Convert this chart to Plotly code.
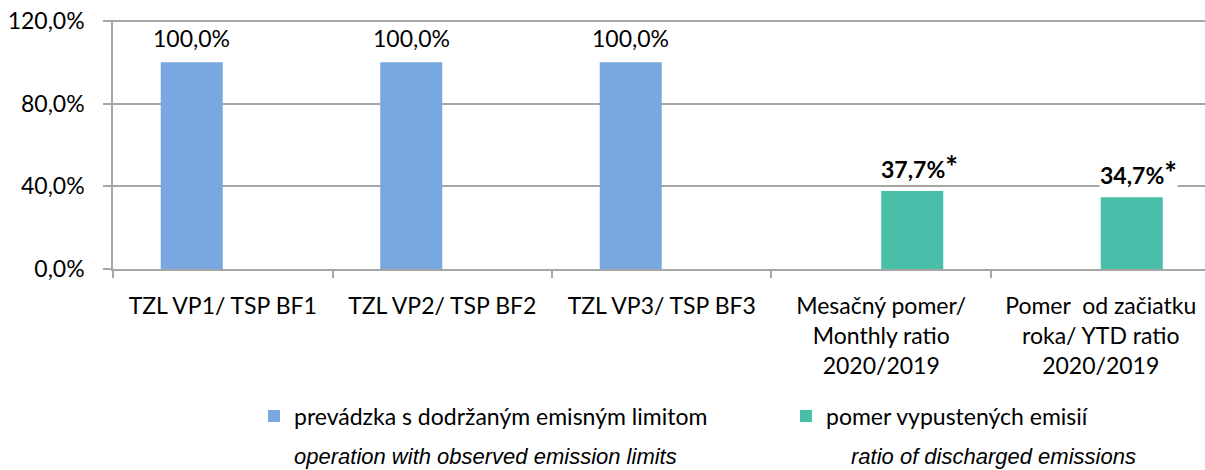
import plotly.graph_objects as go

categories = [
    "TZL VP1/ TSP BF1",
    "TZL VP2/ TSP BF2",
    "TZL VP3/ TSP BF3",
    "Mesačný pomer/<br>Monthly ratio<br>2020/2019",
    "Pomer  od začiatku<br>roka/ YTD ratio<br>2020/2019",
]
series_names = ["prevádzka s dodržaným emisným limitom", "pomer vypustených emisií"]
series_sub = ["operation with observed emission limits", "ratio of discharged emissions"]
limit_values = [100.0, 100.0, 100.0, None, None]
ratio_values = [None, None, None, 37.7, 34.7]
y_ticks = [0, 40, 80, 120]

BLUE = "#79A7DF"
GREEN = "#49BFA9"
GRID = "#A6A6A6"
FONT = "Lato"

# the page's default body margin is removed below (post_script), so figure px == screen px
W, H = 1205, 470
L, R, T, B = 113, 1205, 20, 269

def px_x(xs):
    return (xs - L) / (R - L)

def px_y(ys):
    return (B - ys) / (B - T)

def fmt(v):
    return f"{v:.1f}".replace(".", ",") + "%"

fig = go.Figure()
fig.add_trace(go.Bar(x=categories, y=limit_values, name=series_names[0],
                     marker=dict(color=BLUE, line=dict(width=0))))
fig.add_trace(go.Bar(x=categories, y=ratio_values, name=series_names[1],
                     marker=dict(color=GREEN, line=dict(width=0))))

annotations = []
for i, v in enumerate(limit_values):
    if v is not None:
        annotations.append(dict(x=categories[i], y=v, xref="x", yref="y",
                                text=fmt(v), showarrow=False, xanchor="center",
                                yanchor="bottom", xshift=-31, yshift=8,
                                font=dict(family=FONT, size=23, color="#000000"),
                                bgcolor="white"))
for i, v in enumerate(ratio_values):
    if v is not None:
        annotations.append(dict(x=categories[i], y=v, xref="x", yref="y",
                                text="<b>" + fmt(v) + "<span style='font-size:30px'>*</span></b>",
                                showarrow=False, xanchor="center",
                                yanchor="bottom", xshift=31 + 7, yshift=6,
                                font=dict(family=FONT, size=23, color="#000000"),
                                bgcolor="white", borderpad=0))

for xs, txt in zip([293, 850], series_sub):
    annotations.append(dict(x=px_x(xs), y=px_y(456), xref="paper", yref="paper",
                            text="<i>" + txt + "</i>", showarrow=False,
                            xanchor="left", yanchor="middle", borderpad=0,
                            font=dict(family="Liberation Sans", size=22, color="#000000")))

fig.update_layout(
    width=W, height=H,
    margin=dict(l=L, r=W - R, t=T, b=H - B, autoexpand=False),
    paper_bgcolor="white", plot_bgcolor="white",
    barmode="group", bargap=0.435, bargroupgap=0,
    separators=",.",
    font=dict(family=FONT, size=23, color="#000000"),
    showlegend=True,
    legend=dict(orientation="h", xref="container", yref="container",
                x=254 / W, y=1 - 416 / H, xanchor="left", yanchor="middle",
                entrywidth=487, entrywidthmode="pixels",
                font=dict(family=FONT, size=23, color="#000000"),
                bgcolor="rgba(0,0,0,0)", traceorder="normal"),
    annotations=annotations,
)
fig.update_xaxes(type="category", range=[-0.5, 4.475], showline=True,
                 linecolor=GRID, linewidth=1.5, ticks="outside", tickson="boundaries",
                 ticklen=7, tickcolor=GRID, tickwidth=1.5, showgrid=False,
                 ticklabelstandoff=16, tickfont=dict(family=FONT, size=23, color="#000000"))
fig.update_yaxes(range=[0, 120.5], tickvals=y_ticks, ticktext=[fmt(v) for v in y_ticks],
                 showline=True, linecolor=GRID, linewidth=1.5, ticks="outside",
                 ticklen=8, tickcolor=GRID, tickwidth=1.5, showgrid=True,
                 gridcolor=GRID, gridwidth=1.5, zeroline=False,
                 ticklabeloverflow="allow", ticklabelstandoff=14,
                 tickfont=dict(family=FONT, size=23, color="#000000"))

fig.write_html("out.html", config={"displayModeBar": False},
               post_script="document.body.style.margin='0px';document.body.style.overflow='hidden';")
